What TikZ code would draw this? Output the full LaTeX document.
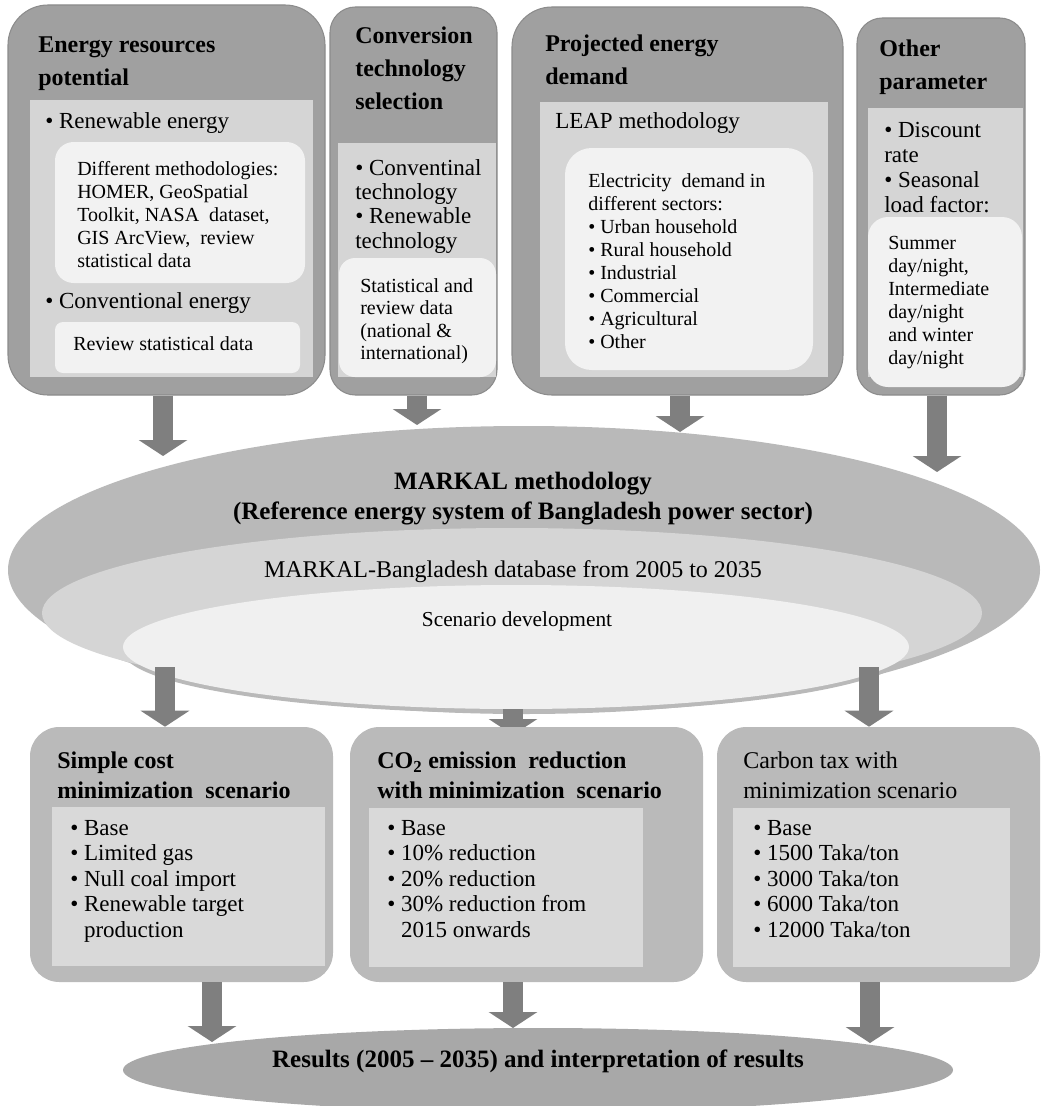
\documentclass[tikz,border=0pt]{standalone}
\usepackage{fontspec}
\setmainfont{Liberation Serif}
\usetikzlibrary{arrows.meta,shapes.geometric,fit}
\definecolor{topbox}{HTML}{A0A0A0}
\definecolor{panelgray}{HTML}{D5D5D5}
\definecolor{whitegray}{HTML}{F2F2F2}
\definecolor{ellout}{HTML}{B9B9B9}
\definecolor{ellmid}{HTML}{D5D5D5}
\definecolor{ellin}{HTML}{F0F0F0}
\definecolor{botbox}{HTML}{BABABA}
\definecolor{botpanel}{HTML}{D9D9D9}
\definecolor{resgray}{HTML}{A8A8A8}
\definecolor{arrowgray}{HTML}{7F7F7F}
\definecolor{rimgray}{HTML}{8C8C8C}
\newcommand\fhdr{\fontsize{18}{24.75}\selectfont\bfseries}
\newcommand\fhdrb{\fontsize{18}{22.5}\selectfont\bfseries}
\newcommand\fhdrr{\fontsize{18}{22.5}\selectfont}
\newcommand\fbody{\fontsize{17.25}{18.2}\selectfont}
\newcommand\fbodyb{\fontsize{17.25}{18.75}\selectfont}
\newcommand\fitem{\fontsize{17.25}{19.1}\selectfont}
\newcommand\fsmall{\fontsize{15}{17.25}\selectfont}
\newcommand\fsmallb{\fontsize{15}{16.9}\selectfont}
\newcommand\hb{\hphantom{• }}
\begin{document}
\begin{tikzpicture}[x=0.75pt,y=-0.75pt,
  obox/.style={rectangle, fill=topbox, draw=rimgray, line width=0.8pt, inner sep=0pt},
  panel/.style={rectangle, fill=panelgray, inner sep=0pt},
  wbox/.style={rectangle, fill=whitegray, inner sep=0pt},
  bbox/.style={rectangle, fill=botbox, inner sep=0pt},
  bpanel/.style={rectangle, fill=botpanel, inner sep=0pt},
  ell/.style={ellipse, inner sep=0pt},
  txt/.style={anchor=north west, inner sep=0pt, align=left},
  ctxt/.style={anchor=center, inner sep=0pt, align=center},
  fat/.style={draw=arrowgray, line width=15pt, -{Triangle[width=36pt,length=12pt]}}]
\useasboundingbox (0,0) rectangle (1044,1106);
\clip (0,0) rectangle (1044,1106);
\fill[white] (0,0) rectangle (1044,1106);

% ---------- top boxes ----------
\node[obox, rounded corners=30pt, fit={(8,5)(325,395)}] (b1) {};
\node[panel, fit={(30,100)(313,377)}] (p1) {};
\node[wbox, rounded corners=14pt, fit={(55,142)(305,283)}] (w1a) {};
\node[wbox, rounded corners=6pt, fit={(55,322)(300,373)}] (w1b) {};

\node[obox, rounded corners=19pt, fit={(330,7)(497,395)}] (b2) {};
\node[panel, fit={(338,143)(496,377)}] (p2) {};
\node[wbox, rounded corners=12pt, fit={(339,258)(496,377)}] (w2) {};

\node[obox, rounded corners=30pt, fit={(512,7)(843,395)}] (b3) {};
\node[panel, fit={(540,102)(828,377)}] (p3) {};
\node[wbox, rounded corners=20pt, fit={(565,148)(813,370)}] (w3) {};

\node[obox, rounded corners=19pt, fit={(857,18)(1025,395)}] (b4) {};
\node[panel, fit={(868,108)(1023,377)}] (p4) {};
\node[wbox, rounded corners=15pt, fit={(868,217)(1022,387)}] (w4) {};

% top box texts
\node[txt, font=\fhdr] (h1) at (38,37) {Energy resources\\potential};
\node[txt, font=\fbody] (t1a) at (45,112) {• Renewable energy};
\node[txt, font=\fsmall] (s1a) at (77,161) {Different methodologies:\\HOMER, GeoSpatial\\Toolkit, NASA\ \ dataset,\\GIS ArcView,\ \ review\\statistical data};
\node[txt, font=\fbody] (t1b) at (45,292) {• Conventional energy};
\node[txt, font=\fsmall] (s1b) at (73,336) {Review statistical data};

\node[txt, font=\fhdr] (h2) at (355,27) {Conversion\\technology\\selection};
\node[txt, font=\fbody] (t2) at (355,159) {• Conventinal\\technology\\• Renewable\\technology};
\node[txt, font=\fsmallb] (s2) at (360,278) {Statistical and\\review data\\(national \&\\international)};

\node[txt, font=\fhdr] (h3) at (545,35) {Projected energy\\demand};
\node[txt, font=\fbody] (t3) at (555,112) {LEAP methodology};
\node[txt, font=\fsmall] (s3) at (588,173) {Electricity\ \ demand in\\different sectors:\\• Urban household\\• Rural household\\• Industrial\\• Commercial\\• Agricultural\\• Other};

\node[txt, font=\fhdr] (h4) at (879,40) {Other\\parameter};
\node[txt, font=\fbodyb] (t4) at (884,122) {• Discount\\rate\\• Seasonal\\load factor:};
\node[txt, font=\fsmall] (s4) at (888,236) {Summer\\day/night,\\Intermediate\\day/night\\and winter\\day/night};

% ---------- MARKAL ellipses ----------
\node[ell, fill=ellout, minimum width=774pt, minimum height=216pt] (eo) at (524,570) {};
\node[ell, fill=ellout, minimum width=589.5pt, minimum height=93pt] (esh) at (516,651) {};
\node[ell, fill=ellmid, minimum width=705pt, minimum height=127.5pt] (em) at (512,613) {};
\node[ell, fill=ellin, minimum width=589.5pt, minimum height=93pt] (ei) at (516,647) {};

\node[ctxt, font=\fontsize{18.75}{22.5}\selectfont\bfseries] (mk) at (523,499) {MARKAL methodology\\(Reference energy system of Bangladesh power sector)};
\node[ctxt, font=\fontsize{18}{22}\selectfont] (mdb) at (513,572) {MARKAL-Bangladesh database from 2005 to 2035};
\node[ctxt, font=\fontsize{16}{20}\selectfont] (msc) at (517,621) {Scenario development};

% arrows into MARKAL
\coordinate (ta1) at (163,456);
\coordinate (ta2) at (417,425);
\coordinate (ta3) at (680,432);
\coordinate (ta4) at (937,472);
\draw[fat] (b1.south -| ta1) -- (ta1);
\draw[fat] (b2.south -| ta2) -- (ta2);
\draw[fat] (b3.south -| ta3) -- (ta3);
\draw[fat] (b4.south -| ta4) -- (ta4);

% arrows out of MARKAL
\coordinate (ms1) at (165,667);
\coordinate (ms3) at (869,667);
\coordinate (mt2) at (513,735);
\draw[fat] (ei.south -| mt2) -- (mt2);

% ---------- scenario boxes ----------
\node[bbox, rounded corners=22pt, fit={(30,727)(333,982)}] (sa) {};
\node[bpanel, fit={(52,807)(325,966)}] (pa) {};
\node[bbox, rounded corners=22pt, fit={(350,727)(703,982)}] (sb) {};
\node[bpanel, fit={(369,808)(643,967)}] (pb) {};
\node[bbox, rounded corners=22pt, fit={(717,727)(1040,982)}] (sc) {};
\node[bpanel, fit={(733,808)(1010,967)}] (pc) {};

\draw[fat] (ms1) -- (ms1 |- sa.north);
\draw[fat] (ms3) -- (ms3 |- sc.north);

\node[txt, font=\fhdrb] (ha) at (57,752) {Simple cost\\minimization\ \ scenario};
\node[txt, font=\fitem] (ia) at (70,820) {• Base\\• Limited gas\\• Null coal import\\• Renewable target\\\hb production};
\node[txt, font=\fhdrb] (hbx) at (377,752) {CO\textsubscript{2} emission\ \ reduction\\with minimization\ \ scenario};
\node[txt, font=\fitem] (ib) at (387,820) {• Base\\• 10\% reduction\\• 20\% reduction\\• 30\% reduction from\\\hb 2015 onwards};
\node[txt, font=\fhdrr] (hc) at (743,752) {Carbon tax with\\minimization scenario};
\node[txt, font=\fitem] (ic) at (753,820) {• Base\\• 1500 Taka/ton\\• 3000 Taka/ton\\• 6000 Taka/ton\\• 12000 Taka/ton};

% ---------- results ----------
\node[ell, fill=resgray, minimum width=622.5pt, minimum height=63pt] (res) at (538,1070) {};
\node[ctxt, font=\fontsize{18.75}{22}\selectfont\bfseries] (rtx) at (538,1061) {Results (2005 – 2035) and interpretation of results};

\coordinate (rt1) at (212,1042);
\coordinate (rt2) at (513,1028);
\coordinate (rt3) at (870,1043);
\draw[fat] (sa.south -| rt1) -- (rt1);
\draw[fat] (sb.south -| rt2) -- (rt2);
\draw[fat] (sc.south -| rt3) -- (rt3);
\end{tikzpicture}
\end{document}
